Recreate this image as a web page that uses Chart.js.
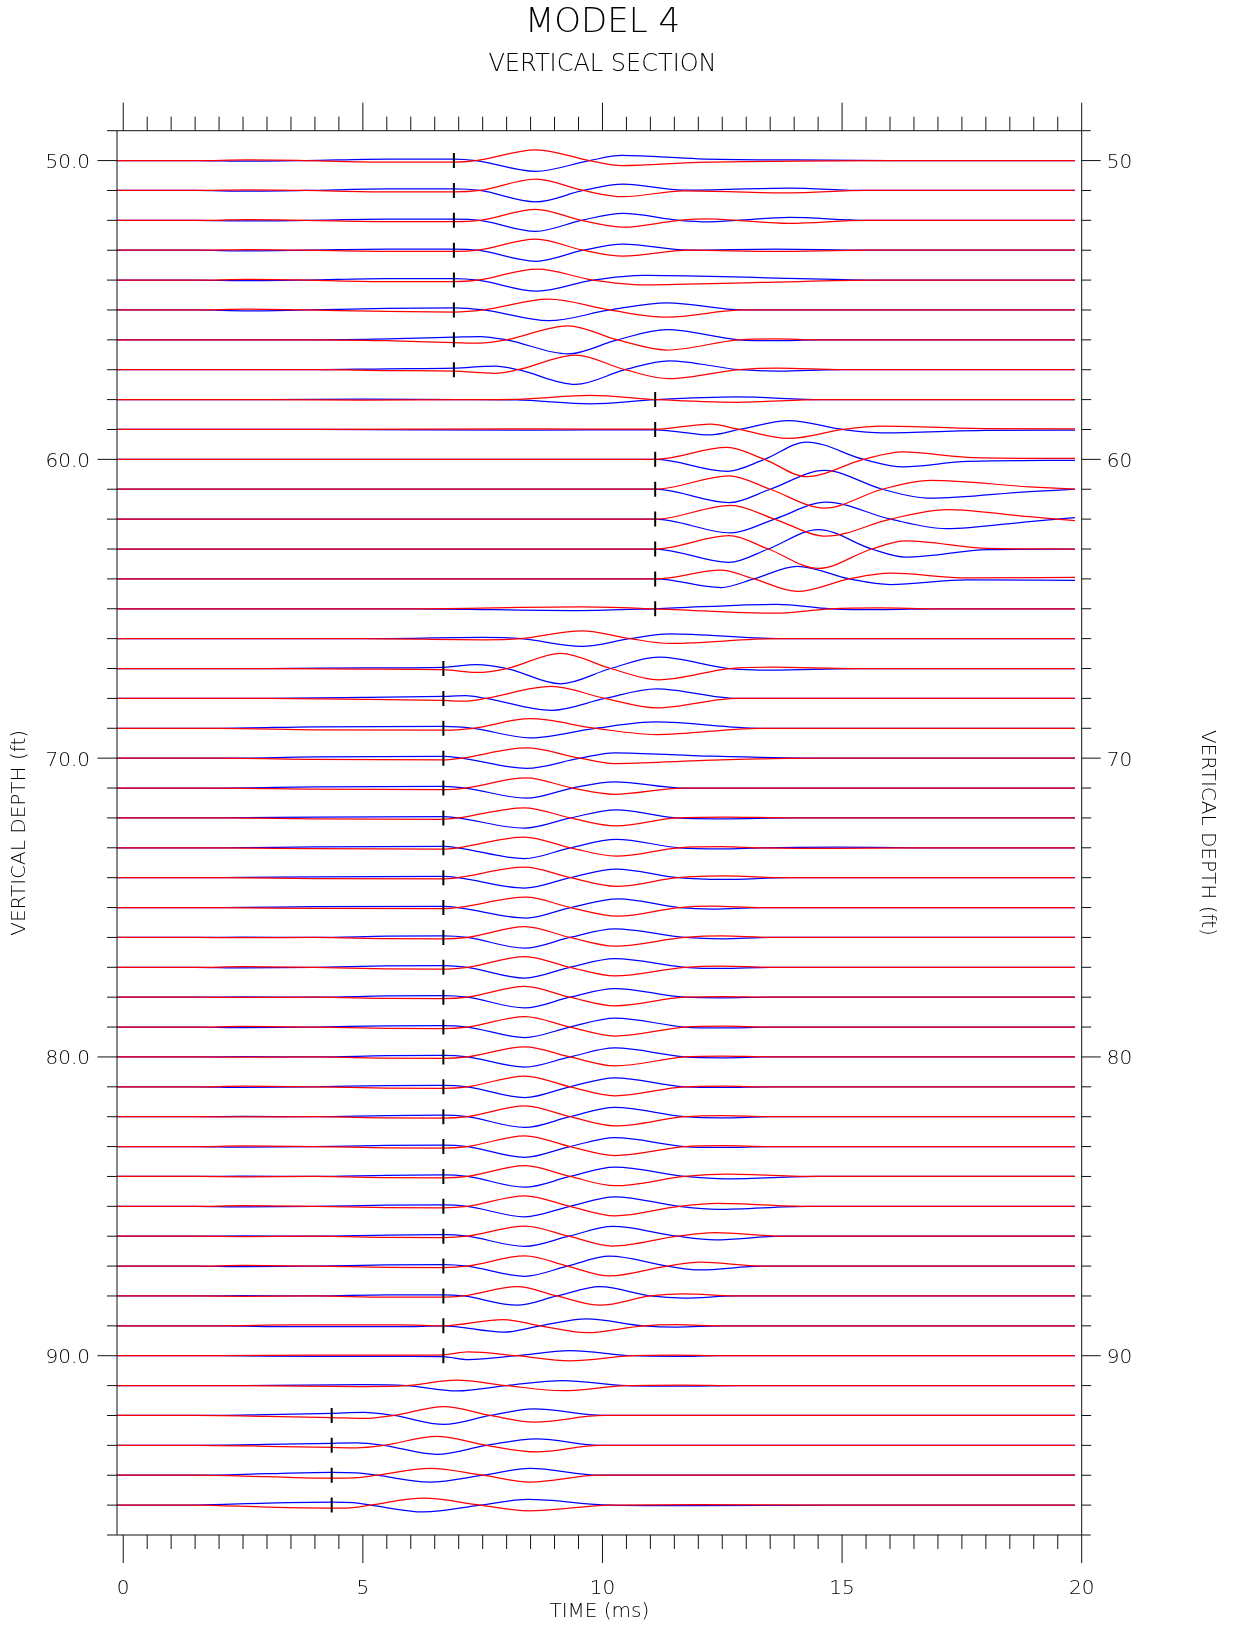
<!DOCTYPE html>
<html><head><meta charset="utf-8">
<script src="https://cdn.jsdelivr.net/npm/chart.js@4/dist/chart.umd.min.js"></script>
<style>html,body{margin:0;padding:0;background:#fff}canvas{display:block}</style>
</head><body>
<canvas id="c" width="1233" height="1631" style="width:1233px;height:1631px"></canvas>
<script>
// ---------- texts ----------
const titleText = 'MODEL 4';
const subtitleText = 'VERTICAL SECTION';
const xAxisTitle = 'TIME (ms)';
const yAxisTitle = 'VERTICAL DEPTH (ft)';

// ---------- axes ----------
const timeRange = [-0.13, 20];
const depthRange = [49, 96];
const xMajorTicks = [0, 5, 10, 15, 20];
const xTickLabels = ['0', '5', '10', '15', '20'];
const xMinorStep = 0.5;
const yMajorTicks = [50, 60, 70, 80, 90];
const yLabelsLeft = ['50.0', '60.0', '70.0', '80.0', '90.0'];
const yLabelsRight = ['50', '60', '70', '80', '90'];

// ---------- traces ----------
const depths = [50,51,52,53,54,55,56,57,58,59,60,61,62,63,64,65,66,67,68,69,70,71,72,73,74,75,76,77,78,79,80,81,82,83,84,85,86,87,88,89,90,91,92,93,94,95];

// first-arrival pick time (ms) per trace, null = no pick
const pickTimes = [6.9,6.9,6.9,6.9,6.9,6.9,6.9,6.9,
  11.1,11.1,11.1,11.1,11.1,11.1,11.1,11.1,
  null,
  6.68,6.68,6.68,6.68,6.68,6.68,6.68,6.68,6.68,6.68,6.68,6.68,6.68,6.68,6.68,6.68,6.68,6.68,6.68,6.68,6.68,6.68,6.68,6.68,
  null,
  4.35,4.35,4.35,4.35];

// sample times (ms)
const knotTimes = [
 [-0.13,1.5,2.6,3.8,5.5,6.9,7.36,8.61,9.73,10.4,12.0,14.0,16.0,19.86],
 [-0.13,1.5,2.6,3.8,5.5,6.9,7.44,8.61,9.6,10.43,11.7,13.9,15.5,19.86],
 [-0.13,1.5,2.6,3.8,5.5,6.9,7.44,8.61,9.56,10.43,11.6,12.2,12.8,13.9,15.5,19.86],
 [-0.13,1.5,2.6,3.8,5.5,6.9,7.4,8.61,9.6,10.43,11.8,13.6,15.5,19.86],
 [-0.13,1.5,2.6,3.8,5.5,6.9,7.4,8.64,9.8,10.87,13.3,15.7,19.86],
 [-0.13,1.5,2.6,3.8,5.5,6.9,7.52,8.88,10.15,11.35,12.94,19.86],
 [-0.13,2.0,4.0,5.5,6.9,7.44,8.0,9.28,10.31,11.34,12.85,13.6,14.5,19.86],
 [-0.13,2.0,4.0,5.5,6.9,7.76,8.24,9.44,10.47,11.39,12.86,13.66,15.0,19.86],
 [-0.13,3.0,5.0,7.0,8.2,9.75,11.1,12.8,14.6,19.86],
 [-0.13,4.0,8.5,11.1,12.25,12.86,13.89,15.02,15.84,18.0,19.86],
 [-0.13,11.1,12.6,13.38,14.26,15.45,16.27,17.61,19.86],
 [-0.13,11.1,12.64,13.5,14.63,15.84,16.84,18.91,19.86],
 [-0.13,11.1,12.68,13.59,14.67,16.01,17.18,18.91,19.86],
 [-0.13,11.1,12.64,13.46,14.5,15.62,16.32,18.05,19.86],
 [-0.13,11.1,12.47,13.16,14.07,15.15,16.01,17.61,19.86],
 [-0.13,6.0,9.5,11.1,13.63,14.76,15.8,17.0,19.86],
 [-0.13,5.0,7.5,8.3,9.57,10.57,11.4,13.67,19.86],
 [-0.13,3.0,5.0,6.68,7.37,8.01,9.13,10.17,11.17,12.65,13.53,15.28,19.86],
 [-0.13,3.0,5.0,6.68,7.14,7.57,8.93,10.05,11.13,12.81,19.86],
 [-0.13,2.0,4.0,6.68,7.3,8.49,9.85,11.13,13.29,19.86],
 [-0.13,2.0,4.0,6.68,7.06,8.41,9.53,10.25,12.0,14.5,19.86],
 [-0.13,2.0,4.0,6.68,7.14,8.41,9.37,10.25,11.69,19.86],
 [-0.13,2.0,4.0,6.68,6.98,8.37,9.33,10.29,11.53,12.5,14.0,19.86],
 [-0.13,2.0,4.0,6.68,6.98,8.37,9.33,10.29,11.6,12.5,13.3,14.9,16.5,19.86],
 [-0.13,2.0,4.0,6.68,6.98,8.37,9.33,10.29,11.57,12.5,13.9,19.86],
 [-0.13,2.0,4.0,6.68,6.98,8.41,9.33,10.33,11.6,12.3,13.3,19.86],
 [-0.13,1.5,2.5,4.0,5.5,6.68,7.18,8.38,9.32,10.26,11.72,12.5,13.5,19.86],
 [-0.13,1.5,2.5,4.0,5.5,6.68,7.18,8.38,9.32,10.26,11.72,12.5,13.5,19.86],
 [-0.13,1.5,2.5,4.0,5.5,6.68,7.18,8.38,9.32,10.26,11.72,12.5,13.5,19.86],
 [-0.13,1.5,2.5,4.0,5.5,6.68,7.18,8.38,9.32,10.26,11.72,12.5,13.5,19.86],
 [-0.13,1.5,2.5,4.0,5.5,6.68,7.18,8.38,9.32,10.26,11.72,12.5,13.5,19.86],
 [-0.13,1.5,2.5,4.0,5.5,6.68,7.18,8.38,9.32,10.26,11.72,12.5,13.5,19.86],
 [-0.13,1.5,2.5,4.0,5.5,6.68,7.18,8.38,9.32,10.26,11.72,12.5,13.5,19.86],
 [-0.13,1.5,2.5,4.0,5.5,6.68,7.18,8.38,9.32,10.26,11.72,12.5,13.5,19.86],
 [-0.13,1.5,2.5,4.0,5.5,6.68,7.18,8.38,9.32,10.26,11.72,12.6,14.5,19.86],
 [-0.13,1.5,2.5,4.0,5.5,6.68,7.18,8.38,9.32,10.26,11.6,12.4,14.3,19.86],
 [-0.13,1.5,2.5,4.0,5.5,6.68,7.18,8.38,9.3,10.21,11.56,12.35,13.75,19.86],
 [-0.13,1.5,2.5,4.0,5.5,6.68,7.18,8.38,9.27,10.15,11.35,12.03,13.34,19.86],
 [-0.13,1.5,2.5,4.0,5.5,6.68,7.1,8.22,9.05,9.95,11.0,11.7,12.8,19.86],
 [-0.13,2.0,3.5,5.8,6.67,7.93,8.7,9.67,10.85,11.55,12.5,19.86],
 [-0.13,2.0,4.0,6.0,6.67,7.2,8.21,9.32,10.64,11.5,12.5,19.86],
 [-0.13,2.5,5.0,5.9,6.96,8.0,9.18,10.5,11.7,12.8,19.86],
 [-0.13,1.5,3.0,4.35,5.02,5.65,6.69,7.66,8.57,10.03,19.86],
 [-0.13,1.5,3.0,4.35,4.87,5.43,6.54,7.58,8.63,9.95,19.86],
 [-0.13,1.5,3.0,4.35,4.87,5.29,6.4,7.51,8.49,9.95,19.86],
 [-0.13,1.5,3.0,4.35,4.8,5.16,6.27,7.45,8.45,10.17,12.0,15.0,19.86]
];

// red component: upward deflection in trace spacings (ft)
const redAmp = [
 [0,0,0.02,0,-0.05,-0.05,0,0.36,0,-0.17,-0.06,-0.02,0,0],
 [0,0,0.02,0,-0.05,-0.05,0,0.38,0,-0.21,-0.01,-0.08,0,0],
 [0,0,0.02,0,-0.04,-0.04,0,0.37,0,-0.23,0,0.05,0,-0.1,0,0],
 [0,0,0.02,0,-0.04,-0.04,0,0.37,0,-0.2,0,-0.04,0,0],
 [0,0,0.02,0,-0.05,-0.05,0,0.37,0,-0.16,-0.08,0,0],
 [0,0,0.03,0,-0.05,-0.07,0,0.36,0,-0.24,0,0],
 [0,0,0,-0.03,-0.09,-0.11,0,0.47,0,-0.34,0,0.03,0,0],
 [0,0,0,-0.03,-0.05,-0.12,0,0.49,0,-0.3,0,0.05,0,0],
 [0,0,-0.02,0,0.01,0.14,0,-0.09,0,0],
 [0,0,0.02,0.01,0.18,0,-0.3,0,0.11,0.03,0.02],
 [0,0,0.4,0,-0.58,0,0.25,0.07,0.03],
 [0,0,0.45,0,-0.63,0,0.3,0.08,0],
 [0,0,0.46,0,-0.57,0,0.32,0.08,-0.05],
 [0,0,0.45,0,-0.65,0,0.27,0.02,0],
 [0,0,0.29,0,-0.42,0,0.19,0.03,0.05],
 [0,0,0.06,0,-0.15,0,0.03,0,0],
 [0,0,-0.04,0,0.26,0,-0.16,0,0],
 [0,0,-0.02,-0.04,-0.13,0,0.51,0,-0.38,0,0.05,0,0],
 [0,0,-0.03,-0.07,-0.09,0,0.4,0,-0.32,0,0],
 [0,0,-0.05,-0.065,0,0.32,0,-0.21,0,0],
 [0,0,-0.04,-0.06,0,0.34,0,-0.18,-0.08,0,0],
 [0,0,-0.04,-0.055,0,0.34,0,-0.21,0,0],
 [0,0,-0.03,-0.045,0,0.34,0,-0.27,0,0.03,0,0],
 [0,0,-0.03,-0.045,0,0.36,0,-0.28,0,0.035,0,-0.02,0,0],
 [0,0,-0.03,-0.04,0,0.35,0,-0.29,0,0.06,0,0],
 [0,0,-0.03,-0.04,0,0.35,0,-0.29,0,0.05,0,0],
 [0,0,-0.01,0,-0.04,-0.05,0,0.36,0,-0.29,0,0.05,0,0],
 [0,0,0.02,0,-0.05,-0.06,0,0.36,0,-0.29,0,0.04,0,0],
 [0,0,-0.01,0,-0.04,-0.05,0,0.36,0,-0.29,0,0.02,0,0],
 [0,0,0.02,0,-0.04,-0.05,0,0.35,0,-0.3,0,0.03,0,0],
 [0,0,-0.01,0,-0.04,-0.05,0,0.34,0,-0.3,0,0.03,0,0],
 [0,0,0.02,0,-0.04,-0.05,0,0.36,0,-0.3,0,0.02,0,0],
 [0,0,-0.01,0,-0.04,-0.05,0,0.36,0,-0.31,0,0.04,0,0],
 [0,0,0.02,0,-0.04,-0.05,0,0.36,0,-0.3,0,0.03,0,0],
 [0,0,-0.01,0,-0.04,-0.05,0,0.36,0,-0.31,0,0.08,0,0],
 [0,0,0.02,0,-0.04,-0.05,0,0.35,0,-0.32,0,0.1,0,0],
 [0,0,-0.01,0,-0.04,-0.05,0,0.34,0,-0.33,0,0.12,0,0],
 [0,0,0.02,0,-0.04,-0.05,0,0.34,0,-0.33,0,0.13,0,0],
 [0,0,-0.01,0,-0.04,-0.04,0,0.31,0,-0.31,0,0.07,0,0],
 [0,0,0.03,0.03,0,0.21,0,-0.23,0,0.04,0,0],
 [0,0,0.02,0.02,0.03,0.13,0,-0.17,0,0.02,0,0],
 [0,0,-0.03,0,0.18,0,-0.17,0,0.02,0,0],
 [0,0,-0.03,-0.07,-0.1,0,0.3,0,-0.22,0,0],
 [0,0,-0.03,-0.07,-0.08,0,0.3,0,-0.22,0,0],
 [0,0,-0.05,-0.1,-0.08,0,0.23,0,-0.23,0,0],
 [0,0,-0.07,-0.1,-0.08,0,0.23,0,-0.19,0,0.02,0,0]
];

// blue component: upward deflection in trace spacings (ft)
const blueAmp = [
 [0,0,-0.02,0,0.05,0.05,0,-0.36,0,0.17,0.06,0.02,0,0],
 [0,0,-0.02,0,0.05,0.05,0,-0.38,0,0.21,0.01,0.08,0,0],
 [0,0,-0.02,0,0.04,0.04,0,-0.37,0,0.23,0,-0.05,0,0.1,0,0],
 [0,0,-0.02,0,0.04,0.04,0,-0.37,0,0.2,0,0.04,0,0],
 [0,0,-0.02,0,0.05,0.05,0,-0.37,0,0.16,0.08,0,0],
 [0,0,-0.03,0,0.05,0.07,0,-0.36,0,0.24,0,0],
 [0,0,0,0.03,0.09,0.11,0,-0.47,0,0.34,0,-0.03,0,0],
 [0,0,0,0.03,0.05,0.12,0,-0.49,0,0.3,0,-0.05,0,0],
 [0,0,0.02,0,-0.01,-0.14,0,0.09,0,0],
 [0,0,-0.02,-0.01,-0.18,0,0.3,0,-0.11,-0.03,-0.02],
 [0,0,-0.4,0,0.58,0,-0.25,-0.07,-0.03],
 [0,0,-0.45,0,0.63,0,-0.3,-0.08,0],
 [0,0,-0.46,0,0.57,0,-0.32,-0.08,0.05],
 [0,0,-0.45,0,0.65,0,-0.27,-0.02,0],
 [0,0,-0.29,0,0.42,0,-0.19,-0.03,-0.05],
 [0,0,-0.06,0,0.15,0,-0.03,0,0],
 [0,0,0.04,0,-0.26,0,0.16,0,0],
 [0,0,0.02,0.04,0.13,0,-0.51,0,0.38,0,-0.05,0,0],
 [0,0,0.03,0.07,0.09,0,-0.4,0,0.32,0,0],
 [0,0,0.05,0.065,0,-0.32,0,0.21,0,0],
 [0,0,0.04,0.06,0,-0.34,0,0.18,0.08,0,0],
 [0,0,0.04,0.055,0,-0.34,0,0.21,0,0],
 [0,0,0.03,0.045,0,-0.34,0,0.27,0,-0.03,0,0],
 [0,0,0.03,0.045,0,-0.36,0,0.28,0,-0.035,0,0.02,0,0],
 [0,0,0.03,0.04,0,-0.35,0,0.29,0,-0.06,0,0],
 [0,0,0.03,0.04,0,-0.35,0,0.29,0,-0.05,0,0],
 [0,0,0.01,0,0.04,0.05,0,-0.36,0,0.29,0,-0.05,0,0],
 [0,0,-0.02,0,0.05,0.06,0,-0.36,0,0.29,0,-0.04,0,0],
 [0,0,0.01,0,0.04,0.05,0,-0.36,0,0.29,0,-0.02,0,0],
 [0,0,-0.02,0,0.04,0.05,0,-0.35,0,0.3,0,-0.03,0,0],
 [0,0,0.01,0,0.04,0.05,0,-0.34,0,0.3,0,-0.03,0,0],
 [0,0,-0.02,0,0.04,0.05,0,-0.36,0,0.3,0,-0.02,0,0],
 [0,0,0.01,0,0.04,0.05,0,-0.36,0,0.31,0,-0.04,0,0],
 [0,0,-0.02,0,0.04,0.05,0,-0.36,0,0.3,0,-0.03,0,0],
 [0,0,0.01,0,0.04,0.05,0,-0.36,0,0.31,0,-0.08,0,0],
 [0,0,-0.02,0,0.04,0.05,0,-0.35,0,0.32,0,-0.1,0,0],
 [0,0,0.01,0,0.04,0.05,0,-0.34,0,0.33,0,-0.12,0,0],
 [0,0,-0.02,0,0.04,0.05,0,-0.34,0,0.33,0,-0.13,0,0],
 [0,0,0.01,0,0.04,0.04,0,-0.31,0,0.31,0,-0.07,0,0],
 [0,0,-0.03,-0.03,0,-0.21,0,0.23,0,-0.04,0,0],
 [0,0,-0.02,-0.02,-0.03,-0.13,0,0.17,0,-0.02,0,0],
 [0,0,0.03,0,-0.18,0,0.17,0,-0.02,0,0],
 [0,0,0.03,0.07,0.1,0,-0.3,0,0.22,0,0],
 [0,0,0.03,0.07,0.08,0,-0.3,0,0.22,0,0],
 [0,0,0.05,0.1,0.08,0,-0.23,0,0.23,0,0],
 [0,0,0.07,0.1,0.08,0,-0.23,0,0.19,0,-0.02,0,0]
];

// ---------- build datasets ----------
const FONT = "'DejaVu Sans', 'Liberation Sans', sans-serif";
const WEIGHT = '200';
const datasets = [];
depths.forEach((d, i) => {
  datasets.push({
    label: 'red ' + d,
    data: knotTimes[i].map((t, k) => ({ x: t, y: d - redAmp[i][k] })),
    borderColor: '#ff0000', borderWidth: 1.25, order: 1,
    cubicInterpolationMode: 'monotone', pointRadius: 0, pointHitRadius: 0, fill: false
  });
  datasets.push({
    label: 'blue ' + d,
    data: knotTimes[i].map((t, k) => ({ x: t, y: d - blueAmp[i][k] })),
    borderColor: '#0000ff', borderWidth: 1.25, order: 2,
    cubicInterpolationMode: 'monotone', pointRadius: 0, pointHitRadius: 0, fill: false
  });
});
datasets.push({
  label: 'picks',
  data: depths.map((d, i) => pickTimes[i] === null ? null : { x: pickTimes[i], y: d }).filter(p => p),
  showLine: false, order: 0,
  pointStyle: 'line', pointRotation: 90, pointRadius: 7.5,
  pointBorderColor: '#000', pointBorderWidth: 2, pointBackgroundColor: '#000'
});

// ---------- axis furniture drawn from the scales ----------
const furniture = {
  id: 'furniture',
  afterDatasetsDraw(chart) {
    const { ctx, chartArea: a } = chart;
    const xs = chart.scales.x, ys = chart.scales.y;
    const ln = (x1, y1, x2, y2) => { ctx.beginPath(); ctx.moveTo(x1, y1); ctx.lineTo(x2, y2); ctx.stroke(); };
    ctx.save();
    ctx.strokeStyle = '#111';
    ctx.lineWidth = 1;
    // frame
    ln(a.left, a.top, a.left, a.bottom);
    ln(a.right, a.top, a.right, a.bottom);
    ln(a.left - 10, a.top, a.right + 9, a.top);
    ln(a.left - 10, a.bottom, a.right + 9, a.bottom);
    // time ticks (top and bottom)
    const nSteps = Math.round((xMajorTicks[xMajorTicks.length - 1] - xMajorTicks[0]) / xMinorStep);
    for (let k = 0; k <= nSteps; k++) {
      const v = xMajorTicks[0] + k * xMinorStep;
      const major = xMajorTicks.some(m => Math.abs(m - v) < 1e-9);
      const px = xs.getPixelForValue(v);
      const len = major ? 28 : 14;
      ln(px, a.top, px, a.top - len);
      ln(px, a.bottom, px, a.bottom + len);
    }
    // depth ticks (left and right)
    depths.forEach(d => {
      const py = ys.getPixelForValue(d);
      const major = yMajorTicks.includes(d);
      ln(a.left - (major ? 19.5 : 10), py, a.left, py);
      ln(a.right, py, a.right + (major ? 19 : 9.5), py);
    });
    // labels
    ctx.fillStyle = '#000';
    ctx.font = WEIGHT + ' 20px ' + FONT;
    ctx.textBaseline = 'alphabetic';
    ctx.textAlign = 'center';
    xMajorTicks.forEach((v, k) => ctx.fillText(xTickLabels[k], xs.getPixelForValue(v), a.bottom + 59));
    yMajorTicks.forEach((v, k) => {
      const py = ys.getPixelForValue(v);
      ctx.textAlign = 'right';
      ctx.fillText(yLabelsLeft[k], a.left - 27, py + 7.5);
      ctx.textAlign = 'left';
      ctx.fillText(yLabelsRight[k], a.right + 25, py + 7.5);
    });
    // axis titles
    ctx.textAlign = 'center';
    ctx.font = WEIGHT + ' 20px ' + FONT;
    ctx.fillText(xAxisTitle, (a.left + a.right) / 2, a.bottom + 82);
    const cy = (a.top + a.bottom) / 2;
    ctx.textBaseline = 'middle';
    ctx.save(); ctx.translate(20, cy); ctx.rotate(-Math.PI / 2); ctx.fillText(yAxisTitle, 0, 0); ctx.restore();
    ctx.save(); ctx.translate(1207, cy); ctx.rotate(Math.PI / 2); ctx.fillText(yAxisTitle, 0, 0); ctx.restore();
    // titles
    ctx.textBaseline = 'alphabetic';
    const cx = xs.getPixelForValue(10);
    ctx.font = WEIGHT + ' 34px ' + FONT;
    ctx.fillText(titleText, cx, 32);
    ctx.font = WEIGHT + ' 24px ' + FONT;
    ctx.fillText(subtitleText, cx, 71);
    ctx.restore();
  }
};

new Chart(document.getElementById('c').getContext('2d'), {
  type: 'line',
  data: { datasets },
  options: {
    responsive: false, animation: false, events: [],
    layout: { padding: { left: 117, right: 151.3, top: 130.7, bottom: 96 } },
    scales: {
      x: { type: 'linear', min: timeRange[0], max: timeRange[1], display: false },
      y: { type: 'linear', min: depthRange[0], max: depthRange[1], reverse: true, display: false }
    },
    plugins: { legend: { display: false }, tooltip: { enabled: false }, title: { display: false } }
  },
  plugins: [furniture]
});
</script>
</body></html>
